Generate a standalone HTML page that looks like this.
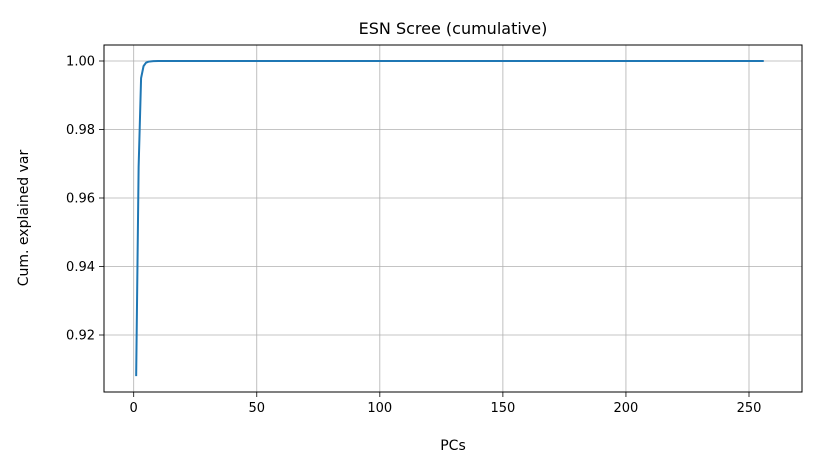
<!DOCTYPE html>
<html><head><meta charset="utf-8"><style>
body{margin:0;background:#fff;}
svg{display:block;font-family:"DejaVu Sans","Liberation Sans",sans-serif;}
</style></head><body>
<svg id="chart" width="817" height="470" xmlns="http://www.w3.org/2000/svg"></svg>
<script>
const pcs = [1,2,3,4,5,6,7,8,10,15,20,50,100,150,200,256];
const cumVar = [0.908,0.969,0.995,0.9985,0.9995,0.9998,0.9999,0.99995,1,1,1,1,1,1,1,1];
const xTicks = [0,50,100,150,200,250];
const yTicks = [0.92,0.94,0.96,0.98,1.00];
const yTickLabels = ["0.92","0.94","0.96","0.98","1.00"];

const L=104,R=802,T=45,B=392;
const xs=v=>133.7+(v-0)*(749-133.7)/250;
const ys=v=>61+(1-v)*(335-61)/0.08;
const NS="http://www.w3.org/2000/svg";
const svg=document.getElementById('chart');
function mk(tag,attrs,parent){const e=document.createElementNS(NS,tag);for(const k in attrs)e.setAttribute(k,attrs[k]);(parent||svg).appendChild(e);return e;}

const grid=mk('g',{});


xTicks.forEach(t=>{
  const l=mk('line',{x1:xs(t),x2:xs(t),y1:T,y2:B,stroke:'#b0b0b0','stroke-width':0.8},grid);
  
  
  const tk=mk('line',{x1:xs(t),x2:xs(t),y1:B,y2:B+5,stroke:'#000','stroke-width':0.8});
  
  
  const tx=mk('text',{x:xs(t),y:B+20,'text-anchor':'middle','font-size':13});
  tx.textContent=t;
  
  
});
yTicks.forEach((t,i)=>{
  const l=mk('line',{x1:L,x2:R,y1:ys(t),y2:ys(t),stroke:'#b0b0b0','stroke-width':0.8},grid);
  
  
  const tk=mk('line',{x1:L-5,x2:L,y1:ys(t),y2:ys(t),stroke:'#000','stroke-width':0.8});
  
  
  const tx=mk('text',{x:L-9,y:ys(t)+4.5,'text-anchor':'end','font-size':13});
  tx.textContent=yTickLabels[i];
  
  
});

const line=mk('polyline',{points:pcs.map((p,i)=>xs(p)+','+ys(cumVar[i])).join(' '),fill:'none',stroke:'#1f77b4','stroke-width':2,'stroke-linejoin':'round'});



const frame=mk('rect',{x:L,y:T,width:R-L,height:B-T,fill:'none',stroke:'#000','stroke-width':1});



const title=mk('text',{x:(L+R)/2,y:34,'text-anchor':'middle','font-size':16});
title.textContent='ESN Scree (cumulative)';



const xl=mk('text',{x:(L+R)/2,y:450,'text-anchor':'middle','font-size':14});
xl.textContent='PCs';



const yl=mk('text',{x:0,y:0,'text-anchor':'middle','font-size':14,transform:'translate(28,218) rotate(-90)'});
yl.textContent='Cum. explained var';


</script>
</body></html>
